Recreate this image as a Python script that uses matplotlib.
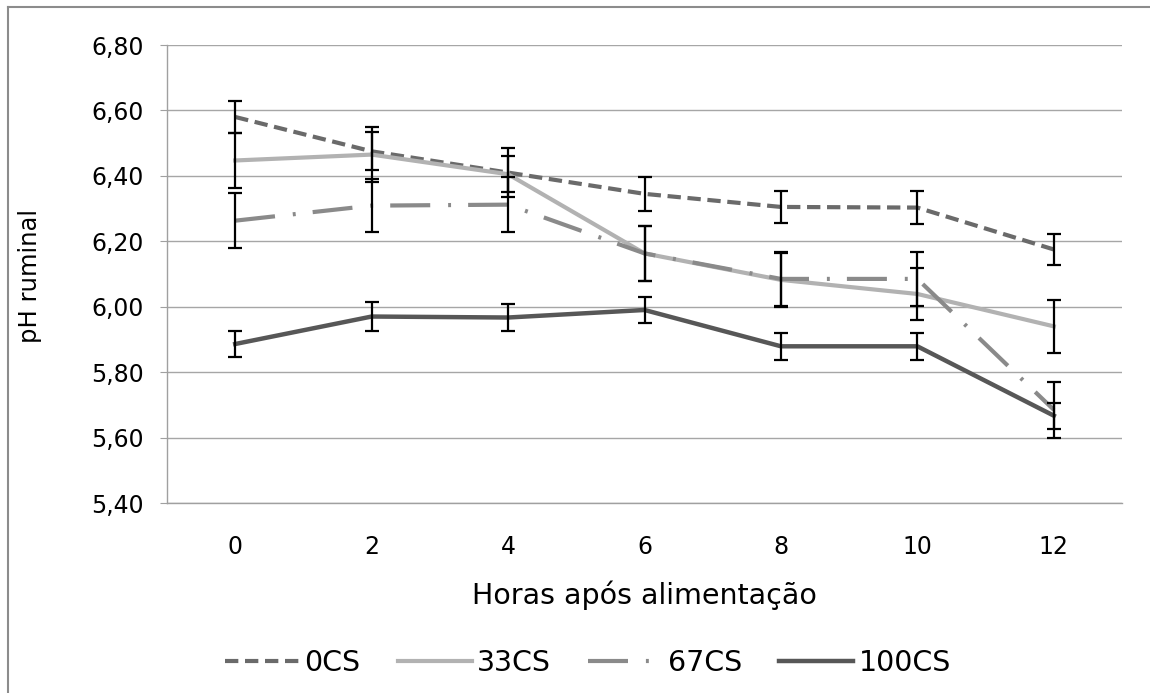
import matplotlib
matplotlib.use("Agg")
import matplotlib.pyplot as plt
from matplotlib.lines import Line2D

plt.rcParams['font.family'] = ['DejaVu Sans']

hours = ["0", "2", "4", "6", "8", "10", "12"]
series_names = ["0CS", "33CS", "67CS", "100CS"]

ph_0cs = [6.58, 6.475, 6.41, 6.345, 6.305, 6.303, 6.175]
err_0cs = [0.05, 0.058, 0.075, 0.052, 0.05, 0.05, 0.048]
ph_33cs = [6.447, 6.465, 6.405, 6.163, 6.082, 6.039, 5.94]
err_33cs = [0.083, 0.083, 0.055, 0.083, 0.083, 0.08, 0.08]
ph_67cs = [6.263, 6.309, 6.312, 6.163, 6.085, 6.085, 5.685]
err_67cs = [0.085, 0.08, 0.083, 0.083, 0.083, 0.083, 0.085]
ph_100cs = [5.886, 5.97, 5.967, 5.99, 5.879, 5.879, 5.667]
err_100cs = [0.04, 0.043, 0.042, 0.041, 0.041, 0.041, 0.04]

yticks = [5.40, 5.60, 5.80, 6.00, 6.20, 6.40, 6.60, 6.80]
ytick_labels = ["5,40", "5,60", "5,80", "6,00", "6,20", "6,40", "6,60", "6,80"]

fig = plt.figure(figsize=(11.5, 6.93), dpi=100)
ax = fig.add_axes([167/1150, 1-503/693, (1122-167)/1150, (503-45)/693])

pos = list(range(len(hours)))
styles = [
    dict(color="#6a6a6a", lw=3.0, linestyle=(0, (3.2, 1.6))),
    dict(color="#b2b2b2", lw=3.0, linestyle="-"),
    dict(color="#8a8a8a", lw=3.0, linestyle=(0, (9.6, 4.3, 0.7, 4.1))),
    dict(color="#575757", lw=3.2, linestyle="-"),
]
data = [ph_0cs, ph_33cs, ph_67cs, ph_100cs]
errs = [err_0cs, err_33cs, err_67cs, err_100cs]

for name, vals, st in zip(series_names, data, styles):
    ax.plot(pos, vals, label=name, zorder=3, **st)
for vals, e in zip(data, errs):
    ax.errorbar(pos, vals, yerr=e, fmt='none', ecolor='black', elinewidth=1.6,
                capsize=5, capthick=1.6, zorder=4)

ax.set_xlim(-0.5, len(hours) - 0.5)
ax.set_ylim(5.40, 6.80)
ax.set_yticks(yticks)
ax.set_yticklabels(ytick_labels)
ax.set_xticks(pos)
ax.set_xticklabels(hours)
ax.grid(axis='y', color='#a6a6a6', lw=1.0, zorder=0)
ax.set_axisbelow(True)
for s in ['top', 'right']:
    ax.spines[s].set_visible(False)
for s in ['left', 'bottom']:
    ax.spines[s].set_color('#a0a0a0')
    ax.spines[s].set_linewidth(1.0)
ax.tick_params(axis='y', length=5, color='#a0a0a0', labelsize=17, pad=12)
ax.tick_params(axis='x', length=0, labelsize=17, pad=23)

fig.text((467+822)/2/1150, 1-595/693, "Horas após alimentação", fontsize=20.5,
         ha='center', va='center')
fig.text(30/1150, 1-276/693, "pH ruminal", rotation=90, fontsize=17.5,
         ha='center', va='center')

leg = fig.legend(loc='center', bbox_to_anchor=(588/1150, 1-663/693), ncol=4, frameon=False,
                 fontsize=20.5, handlelength=2.6, handletextpad=0.2, columnspacing=1.3)

# chart-area border
fig.add_artist(Line2D([8/1150, 8/1150], [0, 1-7/693], transform=fig.transFigure, color='#8c8c8c', lw=1.5))
fig.add_artist(Line2D([8/1150, 1], [1-7/693, 1-7/693], transform=fig.transFigure, color='#8c8c8c', lw=1.5))

fig.savefig("out.png", dpi=100)
